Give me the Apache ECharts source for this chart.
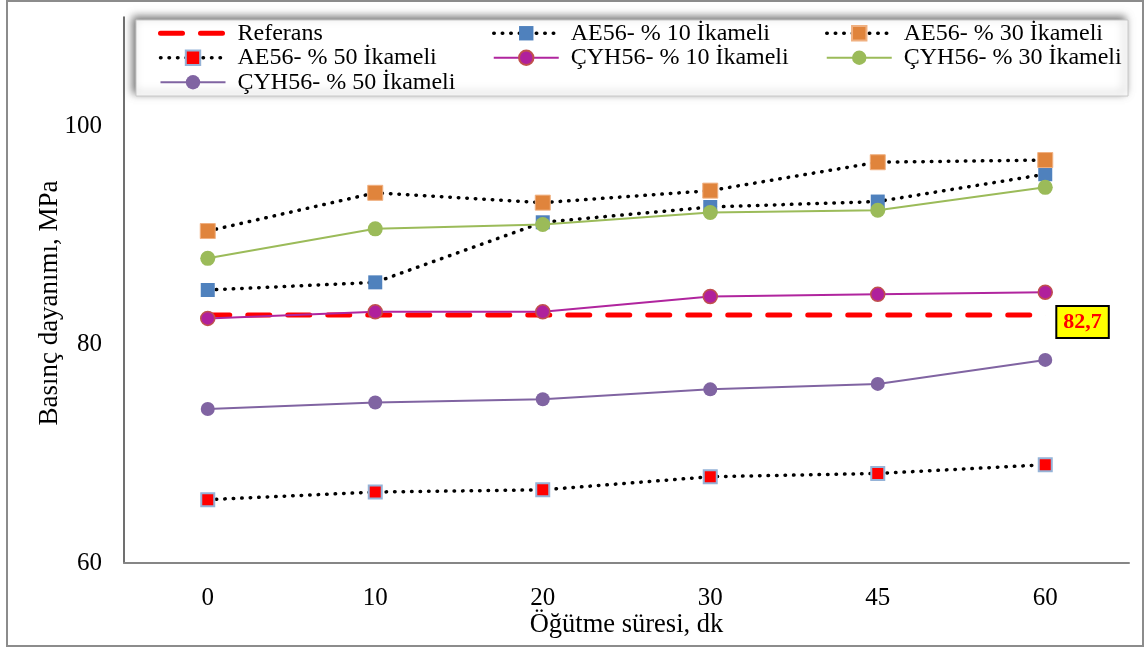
<!DOCTYPE html>
<html>
<head>
<meta charset="utf-8">
<script src="https://cdn.jsdelivr.net/npm/echarts@6/dist/echarts.min.js"></script>
<style>
  html, body { margin: 0; padding: 0; background: #ffffff; }
  #chart { width: 1145px; height: 650px; }
</style>
</head>
<body>
<div id="chart"></div>
<script>
// Grinding time (minutes) on the category axis
const categories = ['0', '10', '20', '30', '45', '60'];

// Compressive strength values, MPa
const referans = [82.7, 82.7, 82.7, 82.7, 82.7, 82.7];
const ae56_10  = [85.0, 85.7, 91.2, 92.6, 93.1, 95.6];
const ae56_30  = [90.4, 93.9, 93.0, 94.1, 96.7, 96.9];
const ae56_50  = [65.8, 66.5, 66.7, 67.9, 68.2, 69.0];
const cyh56_10 = [82.4, 83.0, 83.0, 84.4, 84.6, 84.8];
const cyh56_30 = [87.9, 90.6, 91.0, 92.1, 92.3, 94.4];
const cyh56_50 = [74.1, 74.7, 75.0, 75.9, 76.4, 78.6];

// Y axis tick values
const yTicks = { min: 60, max: 110, interval: 20 };

const SERIF = '"Liberation Serif", "Times New Roman", serif';

const chart = echarts.init(document.getElementById('chart'));

const dotted = { color: '#000000', width: 3.5, type: [0.5, 8], cap: 'round' };
const refDash = { color: '#ff0000', width: 5, type: [22, 18], cap: 'round' };

// Only the last point of the reference line carries its value label
const lastIdx = referans.length - 1;
const referansData = referans.map((v, i) => i === lastIdx ? {
  value: v,
  symbol: 'circle',
  symbolSize: 0.1,
  label: {
    show: true,
    position: 'right',
    distance: 12,
    offset: [0, 7],
    formatter: p => String(p.value).replace('.', ','),
    fontFamily: SERIF,
    fontSize: 22,
    fontWeight: 'bold',
    color: '#ff0000',
    backgroundColor: '#ffff00',
    borderColor: '#000000',
    borderWidth: 2,
    padding: [5, 6, 3, 6]
  }
} : v);

const legendText = { fontFamily: SERIF, fontSize: 24, color: '#000000', lineHeight: 24.5, padding: [0, 0, 0, 7] };
const legendBase = {
  orient: 'vertical',
  top: 21,
  padding: 0,
  itemWidth: 65,
  itemHeight: 18,
  itemGap: 0,
  textStyle: legendText,
  lineStyle: { width: 'inherit', type: 'inherit' },
  z: 5
};

const option = {
  animation: false,
  backgroundColor: '#ffffff',
  graphic: [
    { type: 'rect', shape: { x: 7, y: 1, width: 1136, height: 645 }, style: { fill: 'none', stroke: '#8c8c8c', lineWidth: 2 }, z: 0 },
    { type: 'rect', shape: { x: 136, y: 20, width: 992, height: 76 },
      style: { fill: '#ffffff', stroke: '#c8c8c8', lineWidth: 1, shadowBlur: 8, shadowOffsetX: -3, shadowOffsetY: -3, shadowColor: 'rgba(0,0,0,0.55)' }, z: 1 },
    { type: 'text', x: 50, y: 303, rotation: Math.PI / 2,
      style: { text: 'Basınç dayanımı, MPa', fontFamily: SERIF, fontSize: 27, fill: '#000000', align: 'center', verticalAlign: 'middle' }, z: 2 }
  ],
  legend: [
    Object.assign({}, legendBase, { left: 158, data: [
      { name: 'Referans', itemStyle: { opacity: 0 } },
      { name: 'AE56- % 50 İkameli', lineStyle: dotted },
      'ÇYH56- % 50 İkameli'
    ] }),
    Object.assign({}, legendBase, { left: 492, data: [
      { name: 'AE56- % 10 İkameli', lineStyle: dotted },
      'ÇYH56- % 10 İkameli'
    ] }),
    Object.assign({}, legendBase, { left: 825, data: [
      { name: 'AE56- % 30 İkameli', lineStyle: dotted },
      'ÇYH56- % 30 İkameli'
    ] })
  ],
  grid: { left: 124, right: 16, top: 17, bottom: 87, containLabel: false },
  xAxis: {
    type: 'category',
    data: categories,
    boundaryGap: true,
    name: 'Öğütme süresi, dk',
    nameLocation: 'middle',
    nameGap: 49,
    nameMoveOverlap: false,
    nameTextStyle: { fontFamily: SERIF, fontSize: 26.5, color: '#000000' },
    axisLine: { lineStyle: { color: '#868686', width: 2 } },
    axisTick: { show: false },
    axisLabel: { fontFamily: SERIF, fontSize: 25, color: '#000000', margin: 23 },
    splitLine: { show: false }
  },
  yAxis: {
    type: 'value',
    min: yTicks.min,
    max: yTicks.max,
    interval: yTicks.interval,
    axisLine: { show: true, lineStyle: { color: '#404040', width: 1.5 } },
    axisTick: { show: false },
    axisLabel: { fontFamily: SERIF, fontSize: 25, color: '#000000', margin: 22, showMaxLabel: false },
    splitLine: { show: false }
  },
  series: [
    { name: 'Referans', type: 'line', data: referansData, symbol: 'none',
      lineStyle: refDash, itemStyle: { color: '#ff0000' }, z: 2 },
    { name: 'AE56- % 10 İkameli', type: 'line', data: ae56_10, symbol: 'rect', symbolSize: 14,
      lineStyle: dotted, itemStyle: { color: '#4f81bd' }, z: 3 },
    { name: 'AE56- % 30 İkameli', type: 'line', data: ae56_30, symbol: 'rect', symbolSize: 15,
      lineStyle: dotted, itemStyle: { color: '#e0843c', borderColor: '#f0b080', borderWidth: 1 }, z: 3 },
    { name: 'AE56- % 50 İkameli', type: 'line', data: ae56_50, symbol: 'rect', symbolSize: 13,
      lineStyle: dotted, itemStyle: { color: '#ff0000', borderColor: '#95b3d7', borderWidth: 2 }, z: 3 },
    { name: 'ÇYH56- % 10 İkameli', type: 'line', data: cyh56_10, symbol: 'circle', symbolSize: 14,
      lineStyle: { color: '#b0259e', width: 2 }, itemStyle: { color: '#b0209c', borderColor: '#c0504d', borderWidth: 1.5 }, z: 4 },
    { name: 'ÇYH56- % 30 İkameli', type: 'line', data: cyh56_30, symbol: 'circle', symbolSize: 15,
      lineStyle: { color: '#9bbb59', width: 2 }, itemStyle: { color: '#9bbb59' }, z: 4 },
    { name: 'ÇYH56- % 50 İkameli', type: 'line', data: cyh56_50, symbol: 'circle', symbolSize: 14,
      lineStyle: { color: '#8064a2', width: 2 }, itemStyle: { color: '#8064a2' }, z: 4 }
  ]
};

chart.setOption(option);
</script>
</body>
</html>
